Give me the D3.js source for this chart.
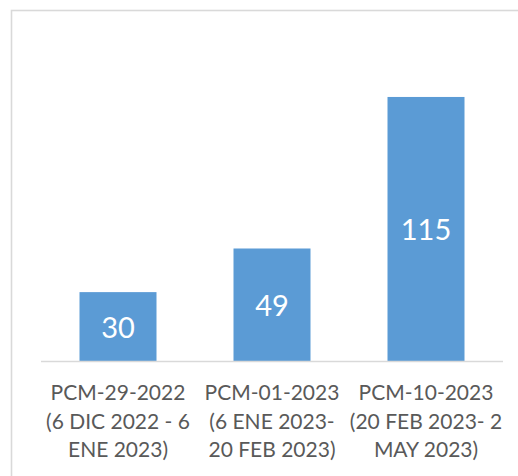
<!DOCTYPE html>
<html><head><meta charset="utf-8">
<script src="https://cdn.jsdelivr.net/npm/d3@7"></script>
<style>html,body{margin:0;padding:0;background:#fff;}svg{display:block;}</style>
</head><body>
<script>
const categories = [
  ["PCM-29-2022", "(6 DIC 2022 - 6", "ENE 2023)"],
  ["PCM-01-2023", "(6 ENE 2023-", "20 FEB 2023)"],
  ["PCM-10-2023", "(20 FEB 2023- 2", "MAY 2023)"]
];
const values = [30, 49, 115];
const ids = ["c1", "c2", "c3"];

const W = 518, H = 476;
const svg = d3.select("body").append("svg").attr("width", W).attr("height", H);
svg.append("rect").attr("width", W).attr("height", H).attr("fill", "#fff");
svg.append("rect").attr("x", 11.5).attr("y", 10.5).attr("width", W).attr("height", H)
  .attr("fill", "none").attr("stroke", "#d9d9d9").attr("stroke-width", 1.6);

const left = 41, right = 503, base = 361;
const x = d3.scaleBand().domain(ids).range([left, right]).paddingInner(0.5).paddingOuter(0.25);
const y = d3.scaleLinear().domain([0, 140]).range([base, base - 140 * 2.296]);

const font = "Lato, 'Open Sans', sans-serif";

svg.selectAll("rect.bar").data(values).join("rect").attr("class", "bar")
  .attr("x", (d, i) => x(ids[i])).attr("width", x.bandwidth())
  .attr("y", d => y(d)).attr("height", d => y(0) - y(d))
  .attr("fill", "#5b9bd5");

svg.append("line").attr("x1", left).attr("x2", right).attr("y1", base + 0.5).attr("y2", base + 0.5)
  .attr("stroke", "#d9d9d9").attr("stroke-width", 1.3);

svg.selectAll("text.val").data(values).join("text").attr("class", "val")
  .attr("x", (d, i) => x(ids[i]) + x.bandwidth() / 2)
  .attr("y", d => (y(d) + y(0)) / 2 + 11)
  .attr("text-anchor", "middle").attr("fill", "#fff")
  .attr("font-family", font).attr("font-size", 29)
  .text(d => d);

const g = svg.append("g");
categories.forEach((lines, i) => {
  const t = g.append("text").attr("text-anchor", "middle").attr("fill", "#595959")
    .attr("font-family", font).attr("font-size", 21);
  lines.forEach((s, j) => {
    t.append("tspan").attr("x", x(ids[i]) + x.bandwidth() / 2).attr("y", 400 + j * 28.5).text(s);
  });
});
</script>
</body></html>
